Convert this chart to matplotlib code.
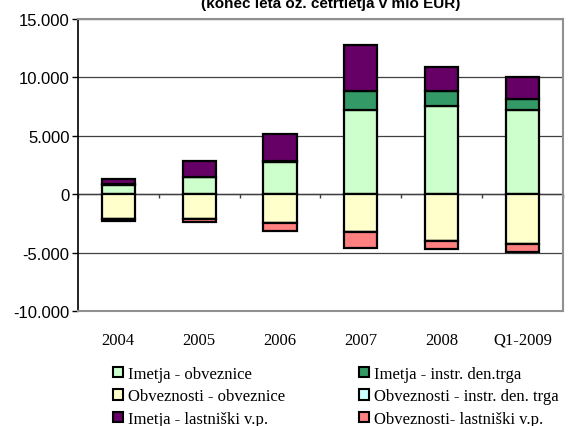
import numpy as np
import matplotlib
matplotlib.use('Agg')
import matplotlib.pyplot as plt
from matplotlib.patches import Patch
from matplotlib.ticker import FuncFormatter

# data (mio EUR)
categories = ['2004', '2005', '2006', '2007', '2008', 'Q1-2009']
imetja_obv = [820, 1450, 2800, 7200, 7530, 7180]
imetja_instr = [30, 40, 60, 1670, 1340, 1010]
imetja_last = [500, 1340, 2290, 3870, 2030, 1830]
obvez_obv = [-2120, -2080, -2460, -3190, -3960, -4240]
obvez_instr = [0, 0, 0, 0, 0, 0]
obvez_last = [-200, -300, -690, -1400, -710, -660]

labels = ['Imetja - obveznice', 'Obveznosti - obveznice', 'Imetja - lastniški v.p.',
          'Imetja - instr. den.trga', 'Obveznosti - instr. den. trga', 'Obveznosti- lastniški v.p.']
colors = ['#CCFFCC', '#FFFFCC', '#660066', '#339966', '#CCFFFF', '#FF8080']

fig = plt.figure(figsize=(5.68, 4.27), dpi=100)
ax = fig.add_axes([0.137, 0.269, 0.854, 0.684])

x = np.arange(len(categories))
w = 0.41

# positive stack: obveznice, instr. den. trga, lastniski
pos = [(imetja_obv, colors[0]), (imetja_instr, colors[3]), (imetja_last, colors[2])]
neg = [(obvez_obv, colors[1]), (obvez_instr, colors[4]), (obvez_last, colors[5])]
for stack in (pos, neg):
    bottom = np.zeros(len(x))
    for vals, c in stack:
        vals = np.array(vals, dtype=float)
        ax.bar(x, vals, w, bottom=bottom, color=c, edgecolor='black', linewidth=1.6, zorder=3)
        bottom += vals

ax.set_xlim(-0.5, len(x) - 0.5)
ax.set_ylim(-10000, 15000)
ax.set_yticks(np.arange(-10000, 15001, 5000))
ax.yaxis.set_major_formatter(FuncFormatter(lambda v, p: f'{int(v):,}'.replace(',', '.')))
ax.grid(axis='y', color='#404040', linewidth=0.9, zorder=0)

# zero axis with category separator ticks
ax.axhline(0, color='#404040', linewidth=1.0, zorder=2)
bounds = np.arange(len(x) + 1) - 0.5
ax.vlines(bounds, -350, 0, color='#404040', linewidth=1.0, zorder=2, clip_on=False)

ax.set_xticks(x)
ax.set_xticklabels(categories, family='Liberation Serif', fontsize=12)
ax.tick_params(axis='x', length=0, pad=15)
ax.tick_params(axis='y', length=4, width=1, labelsize=12, color='black', pad=2)
for t in ax.get_yticklabels():
    t.set_family('Liberation Sans')

for s in ['top', 'right', 'bottom']:
    ax.spines[s].set_color('#909090')
    ax.spines[s].set_linewidth(1.5)
ax.spines['left'].set_color('black')
ax.spines['left'].set_linewidth(1.2)

# upper title line is cut off in the original
fig.text(0.582, 1 - 8 / 427, '(konec leta oz. četrtletja v mio EUR)', ha='center', va='baseline',
         family='Liberation Sans', fontweight='bold', fontsize=11)

handles = [Patch(facecolor=c, edgecolor='black', linewidth=1.5) for c in colors]
fig.legend(handles, labels, ncol=2, loc='lower left', bbox_to_anchor=(0.182, -0.025),
           frameon=False, prop={'family': 'Liberation Serif', 'size': 12},
           handlelength=0.6, handleheight=0.6, handletextpad=0.3,
           columnspacing=4.4, labelspacing=0.38, borderaxespad=0.2)

fig.savefig('out.png', dpi=100)
